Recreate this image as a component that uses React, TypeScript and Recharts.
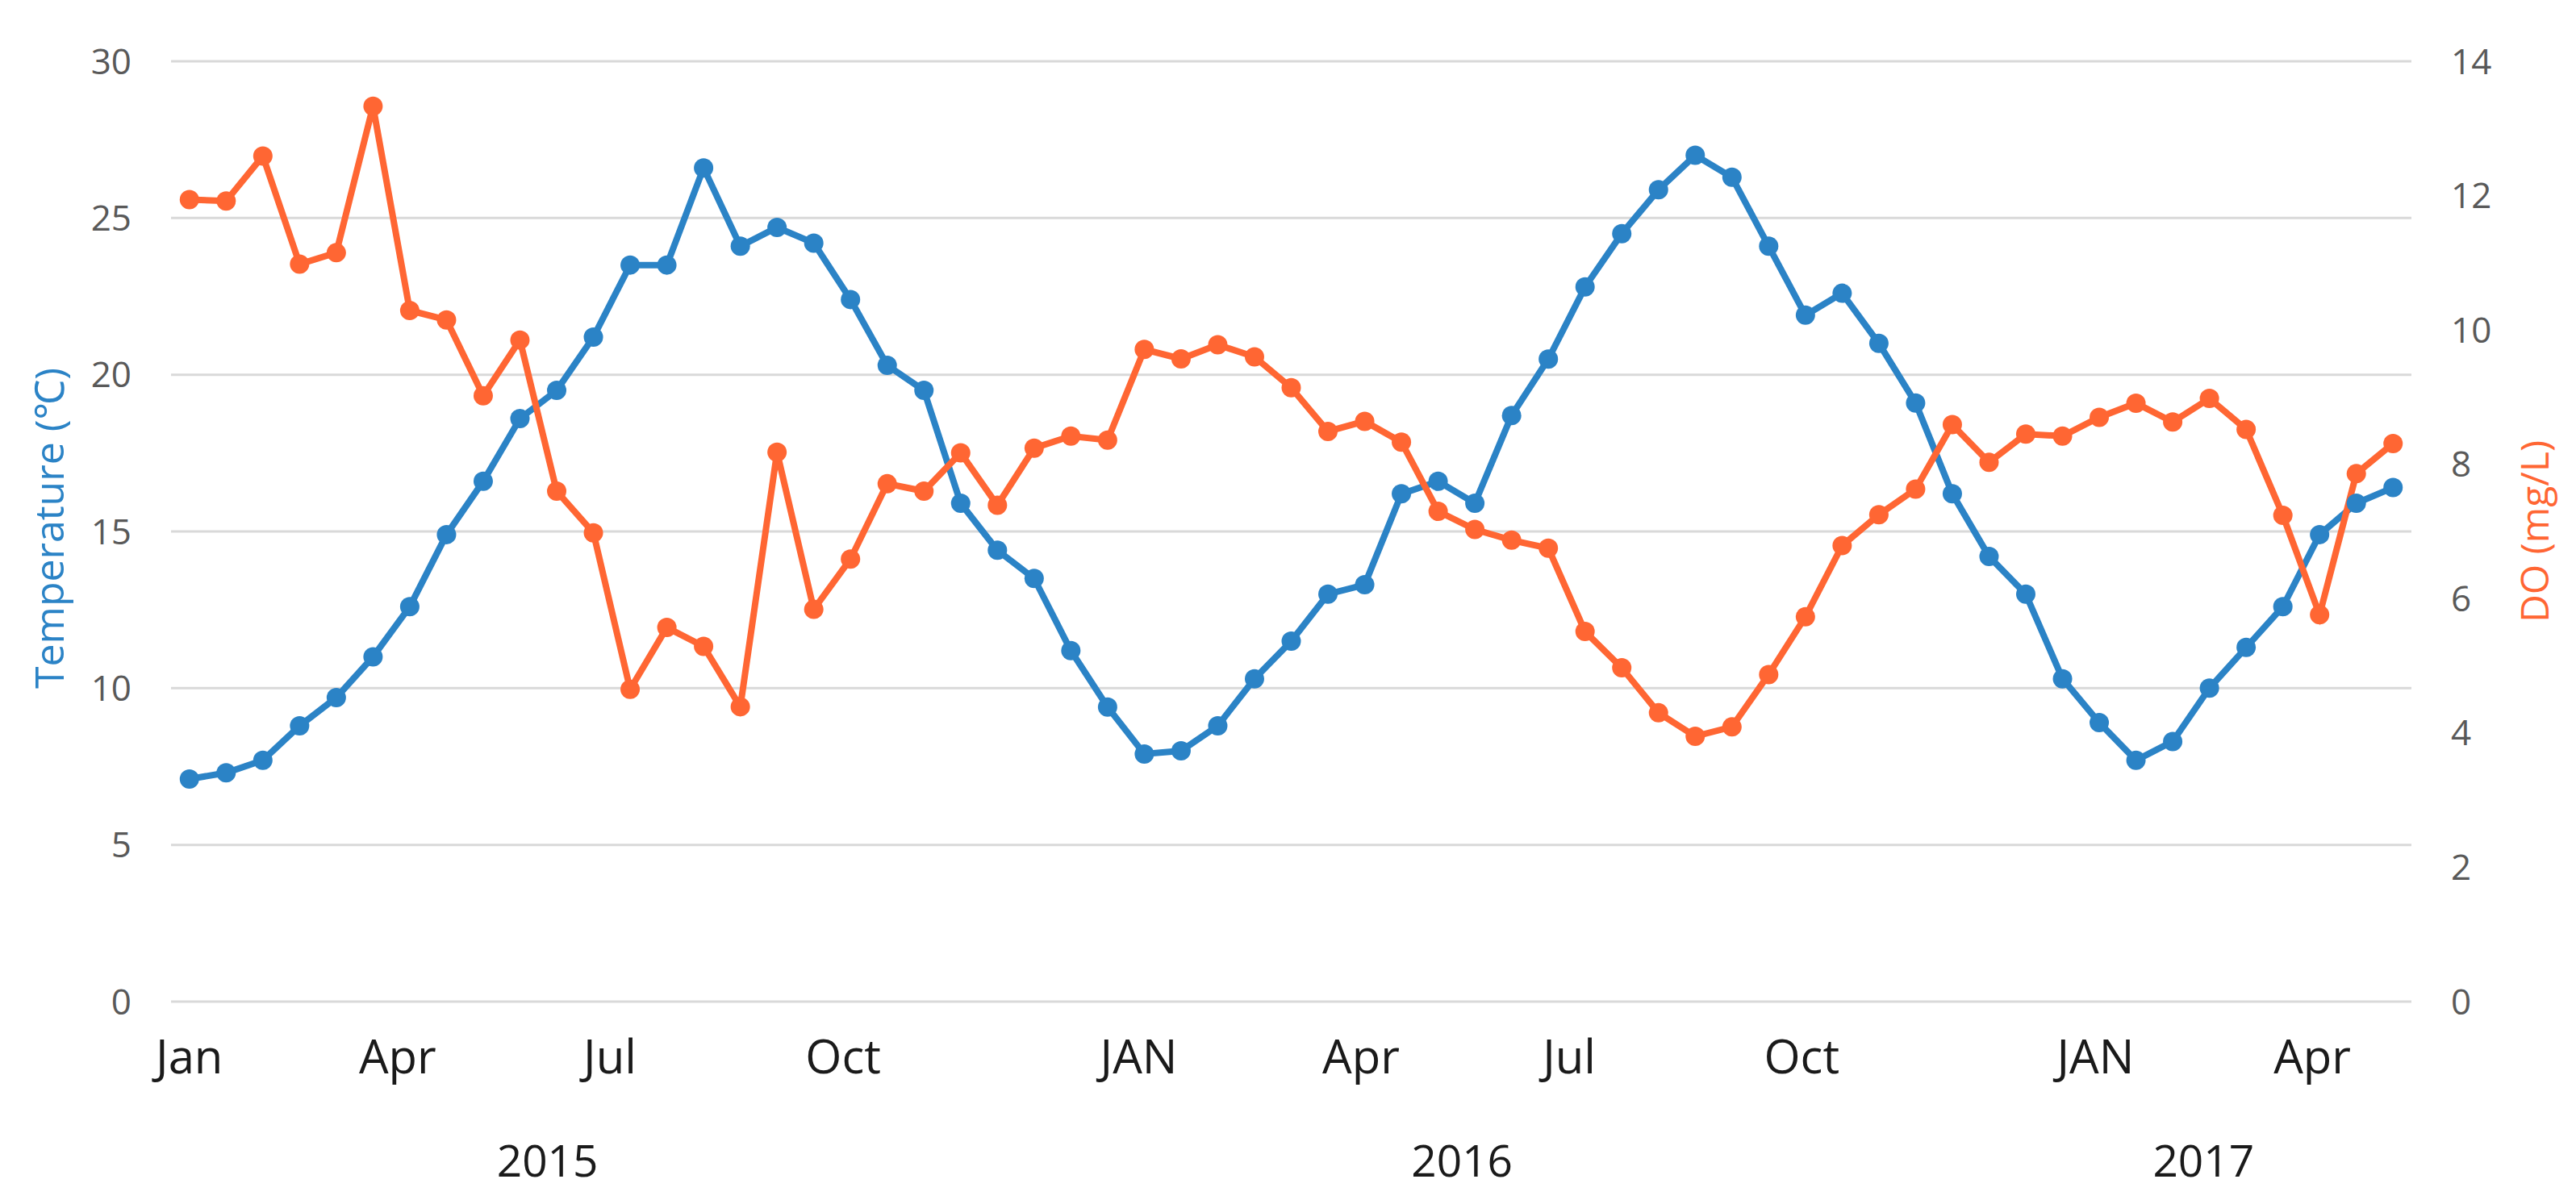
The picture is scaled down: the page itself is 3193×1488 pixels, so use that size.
import React from 'react';
import { LineChart, Line, XAxis, YAxis, CartesianGrid, Label } from 'recharts';

// Biweekly samples, Jan 2015 – May 2017
const temperature = [
  7.1, 7.3, 7.7, 8.8, 9.7, 11.0, 12.6, 14.9, 16.6, 18.6,
  19.5, 21.2, 23.5, 23.5, 26.6, 24.1, 24.7, 24.2, 22.4, 20.3,
  19.5, 15.9, 14.4, 13.5, 11.2, 9.4, 7.9, 8.0, 8.8, 10.3,
  11.5, 13.0, 13.3, 16.2, 16.6, 15.9, 18.7, 20.5, 22.8, 24.5,
  25.9, 27.0, 26.3, 24.1, 21.9, 22.6, 21.0, 19.1, 16.2, 14.2,
  13.0, 10.3, 8.9, 7.7, 8.3, 10.0, 11.3, 12.6, 14.9, 15.9,
  16.4,
];

const dissolvedOxygen = [
  11.94, 11.92, 12.59, 10.98, 11.15, 13.33, 10.29, 10.15, 9.02, 9.85,
  7.6, 6.98, 4.65, 5.57, 5.29, 4.39, 8.18, 5.84, 6.59, 7.71,
  7.6, 8.17, 7.39, 8.24, 8.42, 8.36, 9.71, 9.57, 9.78, 9.6,
  9.14, 8.49, 8.64, 8.33, 7.3, 7.03, 6.87, 6.75, 5.51, 4.97,
  4.3, 3.95, 4.09, 4.87, 5.73, 6.79, 7.25, 7.63, 8.59, 8.03,
  8.45, 8.42, 8.7, 8.91, 8.63, 8.98, 8.52, 7.24, 5.76, 7.86,
  8.31,
];

const monthTickPositions = [0, 5.67, 11.45, 17.8, 25.85, 31.9, 37.57, 43.9, 51.9, 57.8];
const monthTickLabels = ['Jan', 'Apr', 'Jul', 'Oct', 'JAN', 'Apr', 'Jul', 'Oct', 'JAN', 'Apr'];

const yearTickPositions = [9.75, 34.65, 54.84];
const yearTickLabels = ['2015', '2016', '2017'];

const tempTicks = [0, 5, 10, 15, 20, 25, 30];
const doTicks = [0, 2, 4, 6, 8, 10, 12, 14];

const data = temperature.map((t, i) => ({ i, temp: t, do: dissolvedOxygen[i] }));

const BLUE = '#2B83C6';
const ORANGE = '#FF6633';
const FONT = '"Open Sans", "Noto Sans", sans-serif';

export default function App() {
  const monthFmt = (v: number) => {
    const k = monthTickPositions.indexOf(v);
    return k >= 0 ? monthTickLabels[k] : '';
  };
  const yearFmt = (v: number) => {
    const k = yearTickPositions.indexOf(v);
    return k >= 0 ? yearTickLabels[k] : '';
  };

  return (
    <div style={{ position: 'absolute', left: 0, top: 0, width: 3193, height: 1488, background: '#fff' }}>
      <LineChart
        width={3193}
        height={1488}
        data={data}
        margin={{ top: 76, right: 0, bottom: 0, left: 0 }}
      >
        <CartesianGrid
          xAxisId="m"
          yAxisId="t"
          vertical={false}
          stroke="#D9D9D9"
          strokeWidth={3}
        />
        <XAxis
          xAxisId="m"
          dataKey="i"
          type="number"
          domain={[-0.5, 60.5]}
          ticks={monthTickPositions}
          tickFormatter={monthFmt}
          interval={0}
          axisLine={false}
          tickLine={false}
          tickSize={0}
          tickMargin={48}
          height={120}
          tick={{ fill: '#1a1a1a', fontSize: 58, fontFamily: FONT }}
        />
        <XAxis
          xAxisId="y"
          dataKey="i"
          type="number"
          domain={[-0.5, 60.5]}
          ticks={yearTickPositions}
          tickFormatter={yearFmt}
          interval={0}
          axisLine={false}
          tickLine={false}
          tickSize={0}
          tickMargin={58}
          height={126}
          tick={{ fill: '#1a1a1a', fontSize: 55, fontFamily: FONT }}
        />
        <YAxis
          yAxisId="t"
          orientation="left"
          domain={[0, 30]}
          ticks={tempTicks}
          interval={0}
          width={212}
          axisLine={false}
          tickLine={false}
          tickSize={0}
          tickMargin={49}
          tick={{ fill: '#595959', fontSize: 44, fontFamily: FONT }}
        >
          <Label
            content={(p: any) => {
              const vb = p.viewBox || { x: 0, y: 0, width: 0, height: 0 };
              const cx = vb.x + 60;
              const cy = vb.y + vb.height / 2 - 4;
              return (
                <text
                  x={cx}
                  y={cy}
                  transform={`rotate(-90 ${cx} ${cy})`}
                  textAnchor="middle"
                  dominantBaseline="central"
                  fill={BLUE}
                  fontSize={50}
                  fontFamily={FONT}
                >
                  Temperature (℃)
                </text>
              );
            }}
          />
        </YAxis>
        <YAxis
          yAxisId="do"
          orientation="right"
          domain={[0, 14]}
          ticks={doTicks}
          interval={0}
          width={204}
          axisLine={false}
          tickLine={false}
          tickSize={0}
          tickMargin={49}
          tick={{ fill: '#595959', fontSize: 44, fontFamily: FONT }}
        >
          <Label
            content={(p: any) => {
              const vb = p.viewBox || { x: 0, y: 0, width: 0, height: 0 };
              const cx = vb.x + 151;
              const cy = vb.y + vb.height / 2;
              return (
                <text
                  x={cx}
                  y={cy}
                  transform={`rotate(-90 ${cx} ${cy})`}
                  textAnchor="middle"
                  dominantBaseline="central"
                  fill={ORANGE}
                  fontSize={48}
                  fontFamily={FONT}
                >
                  DO (mg/L)
                </text>
              );
            }}
          />
        </YAxis>
        <Line
          xAxisId="m"
          yAxisId="t"
          type="linear"
          dataKey="temp"
          stroke={BLUE}
          strokeWidth={8}
          dot={{ r: 12, fill: BLUE, stroke: BLUE, strokeWidth: 0 }}
          activeDot={false}
          isAnimationActive={false}
        />
        <Line
          xAxisId="m"
          yAxisId="do"
          type="linear"
          dataKey="do"
          stroke={ORANGE}
          strokeWidth={8}
          dot={{ r: 12, fill: ORANGE, stroke: ORANGE, strokeWidth: 0 }}
          activeDot={false}
          isAnimationActive={false}
        />
      </LineChart>
    </div>
  );
}
